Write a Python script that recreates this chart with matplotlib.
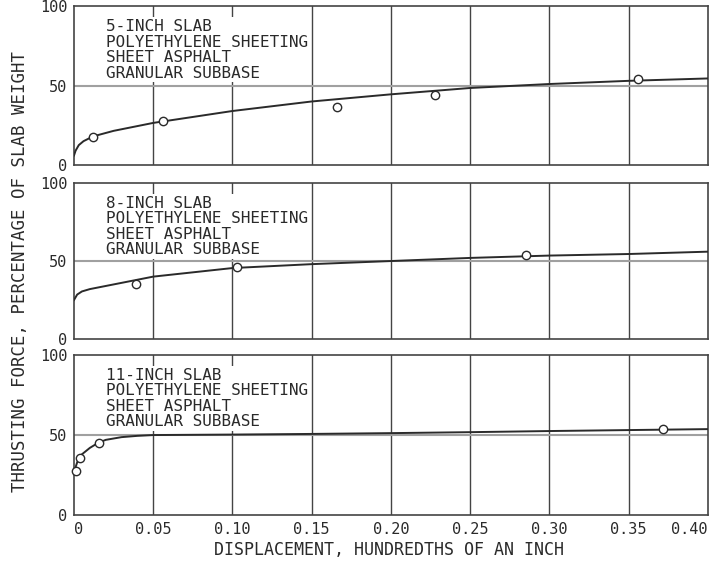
import numpy as np
import matplotlib.pyplot as plt

# displacement (hundredths of an inch) vs thrusting force (% slab weight)
labels = ["5-INCH SLAB", "8-INCH SLAB", "11-INCH SLAB"]
base_text = "POLYETHYLENE SHEETING\nSHEET ASPHALT\nGRANULAR SUBBASE"

# measured points
pts_x_5 = [0.012, 0.056, 0.166, 0.228, 0.356]
pts_y_5 = [17.5, 28, 36.5, 44, 54]
pts_x_8 = [0.039, 0.103, 0.285]
pts_y_8 = [35.5, 46, 54]
pts_x_11 = [0.001, 0.004, 0.016, 0.372]
pts_y_11 = [27.5, 35.5, 45, 53.5]

# fitted curves
fit_x_5 = [0, 0.001, 0.003, 0.006, 0.012, 0.025, 0.05, 0.10, 0.15, 0.20, 0.25, 0.30, 0.35, 0.40]
fit_y_5 = [6, 9, 12.5, 15, 18, 21.5, 26.5, 34, 40, 44.5, 48.5, 51, 53, 54.5]
fit_x_8 = [0, 0.002, 0.005, 0.01, 0.025, 0.05, 0.10, 0.15, 0.20, 0.25, 0.30, 0.35, 0.40]
fit_y_8 = [25, 28.5, 30.5, 32, 35, 40, 45.5, 48, 50, 52, 53.5, 54.5, 56]
fit_x_11 = [0, 0.002, 0.005, 0.01, 0.015, 0.02, 0.03, 0.04, 0.05, 0.10, 0.15, 0.20, 0.25, 0.30, 0.35, 0.40]
fit_y_11 = [27, 33, 38, 42, 45, 47, 48.7, 49.5, 50, 50.3, 50.7, 51.2, 51.8, 52.5, 53.1, 53.7]

xticks = [0, 0.05, 0.10, 0.15, 0.20, 0.25, 0.30, 0.35, 0.40]
xticklabels = ["0", "0.05", "0.10", "0.15", "0.20", "0.25", "0.30", "0.35", "0.40"]

ink = "#2a2a2a"
FONT = "DejaVu Sans Mono"
plt.rcParams['font.family'] = FONT

fig = plt.figure(figsize=(7.13, 5.65), dpi=100)
boxes = [(0.1038, 0.708, 0.889, 0.281),
         (0.1038, 0.400, 0.889, 0.276),
         (0.1038, 0.088, 0.889, 0.284)]
series = [(pts_x_5, pts_y_5, fit_x_5, fit_y_5),
          (pts_x_8, pts_y_8, fit_x_8, fit_y_8),
          (pts_x_11, pts_y_11, fit_x_11, fit_y_11)]

axes = []
for i, (rect, (px, py, fx, fy)) in enumerate(zip(boxes, series)):
    ax = fig.add_axes(rect)
    ax.set_xlim(0, 0.40)
    ax.set_ylim(0, 100)
    for xv in xticks[1:-1]:
        ax.axvline(xv, color="#444444", lw=1.0, zorder=1)
    ax.axhline(50, color="#a0a0a0", lw=1.5, zorder=1)
    ax.plot(fx, fy, color=ink, lw=1.4, zorder=3)
    ax.plot(px, py, "o", ms=6, mfc="white", mec=ink, mew=1.0, zorder=4, clip_on=False)
    ax.text(0.02, 92, labels[i] + "\n" + base_text, fontsize=11.5, color=ink,
            va="top", ha="left", linespacing=1.05, zorder=2,
            bbox=dict(facecolor="white", edgecolor="none", pad=1))
    ax.set_yticks([0, 50, 100])
    ax.set_yticklabels(["0", "50", "100"], fontsize=11, color=ink)
    ax.set_xticks(xticks)
    ax.tick_params(length=0, pad=5)
    if i < 2:
        ax.set_xticklabels([])
    else:
        ax.set_xticklabels(xticklabels, fontsize=11, color=ink)
        ax.get_xticklabels()[0].set_ha("left")
        ax.get_xticklabels()[-1].set_ha("right")
    for s in ax.spines.values():
        s.set_color("#444444")
        s.set_linewidth(1.2)
    axes.append(ax)

fig.text(0.028, 0.52, "THRUSTING FORCE, PERCENTAGE OF SLAB WEIGHT", rotation=90,
         ha="center", va="center", fontsize=12.5, color=ink)
fig.text(0.546, 0.027, "DISPLACEMENT, HUNDREDTHS OF AN INCH",
         ha="center", va="center", fontsize=12, color=ink)

fig.savefig("out.png", dpi=100)
